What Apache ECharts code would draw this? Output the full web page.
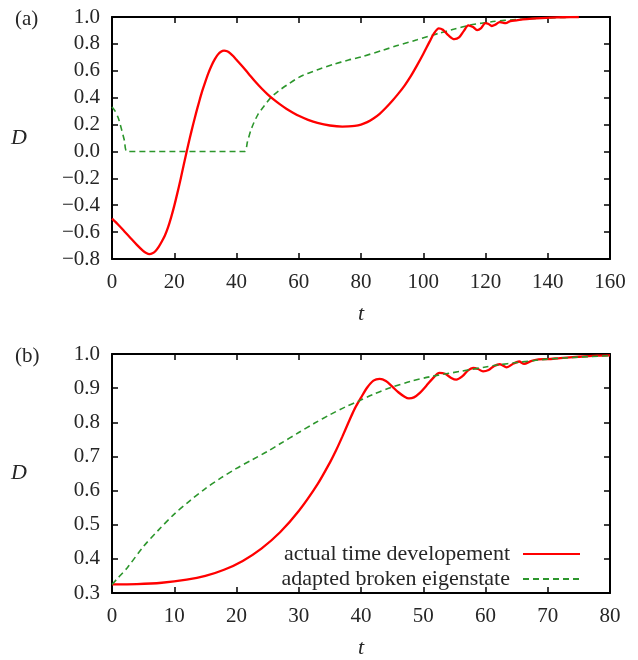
<!DOCTYPE html>
<html>
<head>
<meta charset="utf-8">
<script src="https://cdn.jsdelivr.net/npm/echarts@6/dist/echarts.min.js"></script>
<style>
html,body{margin:0;padding:0;background:#fff;}
#chart{width:638px;height:660px;}
</style>
</head>
<body>
<div id="chart"></div>
<script>
// ---- Data ----
const seriesNames = ['actual time developement', 'adapted broken eigenstate'];
const panelLabels = ['(a)', '(b)'];

// Panel (a): red (actual time development)
const aRedT = [0, 2, 4, 6, 8, 10, 11, 12, 13, 14, 15, 16, 17, 18, 19, 20, 21, 22, 23, 24, 25, 26, 27, 28, 29, 30, 31, 32, 33, 34, 35, 36, 37, 38, 39, 40, 42, 44, 46, 48, 50, 52, 54, 56, 58, 60, 63, 66, 70, 74, 76, 78, 80, 82, 84, 86, 88, 90, 92, 94, 96, 98, 100, 102, 103.5, 105, 106.3, 108, 110, 111.5, 113, 114.5, 116, 117.3, 118.5, 120, 121, 122, 123.3, 124.5, 125.5, 126.5, 128, 130, 132, 135, 138, 141, 145, 150];
const aRedD = [-0.50, -0.545, -0.595, -0.645, -0.695, -0.74, -0.755, -0.763, -0.757, -0.74, -0.71, -0.67, -0.625, -0.565, -0.49, -0.405, -0.31, -0.21, -0.105, 0.0, 0.10, 0.195, 0.285, 0.37, 0.45, 0.52, 0.585, 0.64, 0.685, 0.72, 0.742, 0.75, 0.745, 0.73, 0.708, 0.682, 0.63, 0.575, 0.52, 0.47, 0.425, 0.385, 0.35, 0.318, 0.29, 0.265, 0.235, 0.212, 0.193, 0.185, 0.186, 0.19, 0.2, 0.218, 0.245, 0.28, 0.325, 0.375, 0.43, 0.49, 0.56, 0.64, 0.725, 0.815, 0.88, 0.916, 0.905, 0.865, 0.835, 0.848, 0.895, 0.938, 0.925, 0.903, 0.915, 0.955, 0.948, 0.933, 0.945, 0.962, 0.958, 0.955, 0.97, 0.975, 0.982, 0.988, 0.992, 0.995, 0.998, 1.0];

// Panel (a): green (adapted broken eigenstate)
const aGreenT = [0, 1, 2, 3, 4, 4.8, 42.6, 43.5, 44.5, 45.5, 47, 48.7, 51, 53.5, 56.2, 60.4, 65.8, 71.1, 76, 80, 87.2, 92, 98, 105, 110, 115, 122.4, 130, 140, 150];
const aGreenD = [0.33, 0.30, 0.25, 0.17, 0.08, 0.0, 0.0, 0.07, 0.15, 0.21, 0.28, 0.333, 0.40, 0.45, 0.494, 0.556, 0.606, 0.648, 0.68, 0.703, 0.754, 0.79, 0.83, 0.879, 0.91, 0.94, 0.966, 0.982, 0.993, 1.0];

// Panel (b): red
const bRedT = [0, 4, 8, 12, 15, 18, 21, 24, 27, 30, 33, 35, 36, 37, 38, 39, 40, 41, 42, 43, 44, 45, 46, 47, 47.7, 48.5, 49.5, 50.5, 51.5, 52.6, 53.5, 54.5, 55.3, 56.3, 57.2, 58, 58.8, 59.6, 60.5, 61.4, 62.3, 63.4, 64.5, 65.4, 66.2, 67.3, 68.5, 70, 72, 75, 78, 80];
const bRedD = [0.325, 0.326, 0.33, 0.339, 0.35, 0.368, 0.394, 0.43, 0.478, 0.54, 0.618, 0.682, 0.718, 0.758, 0.80, 0.84, 0.872, 0.902, 0.922, 0.927, 0.921, 0.905, 0.888, 0.875, 0.870, 0.873, 0.887, 0.907, 0.928, 0.945, 0.942, 0.93, 0.925, 0.935, 0.952, 0.959, 0.956, 0.949, 0.953, 0.965, 0.970, 0.961, 0.972, 0.978, 0.971, 0.979, 0.984, 0.985, 0.988, 0.992, 0.995, 0.996];

// Panel (b): green
const bGreenT = [0, 1, 2.5, 5, 7.5, 10, 12.5, 15, 17.5, 20, 22.5, 25, 27, 30, 32.5, 35, 37.5, 39.6, 42, 44.7, 48, 51, 55.9, 60, 62, 65, 70, 75, 80];
const bGreenD = [0.325, 0.345, 0.375, 0.435, 0.485, 0.531, 0.57, 0.606, 0.637, 0.665, 0.69, 0.715, 0.737, 0.77, 0.797, 0.822, 0.845, 0.862, 0.882, 0.901, 0.92, 0.933, 0.949, 0.962, 0.968, 0.975, 0.985, 0.991, 0.995];

// Axis ranges / ticks
const aX = {min: 0, max: 160, step: 20};
const aY = {min: -0.8, max: 1.0, step: 0.2};
const bX = {min: 0, max: 80, step: 10};
const bY = {min: 0.3, max: 1.0, step: 0.1};
const xName = 't';
const yName = 'D';

// ---- Chart ----
const zip = (t, d) => t.map((v, i) => [v, d[i]]);
const FONT = 'Liberation Serif';
const TXT = '#262626';
const RED = '#ff0000';
const GREEN = '#2c962c';

function xAxisDef(grid, r, pos, show) {
  return {
    type: 'value', gridIndex: grid, position: pos,
    min: r.min, max: r.max, interval: r.step,
    name: show ? xName : '', nameLocation: 'middle', nameGap: 44,
    nameTextStyle: {fontFamily: FONT, fontStyle: 'italic', fontSize: 22, color: TXT},
    axisLine: {show: true, onZero: false, lineStyle: {color: '#000', width: 2}},
    axisTick: {show: true, inside: true, length: 6, lineStyle: {color: '#000', width: 1.5}},
    axisLabel: {show: show, margin: 13, fontFamily: FONT, fontSize: 21, color: TXT},
    splitLine: {show: false}
  };
}
function yAxisDef(grid, r, pos, show) {
  return {
    type: 'value', gridIndex: grid, position: pos,
    min: r.min, max: r.max, interval: r.step,
    name: show ? yName : '', nameLocation: 'middle', nameGap: 85, nameRotate: 0,
    nameTextStyle: {fontFamily: FONT, fontStyle: 'italic', fontSize: 22, color: TXT},
    axisLine: {show: true, onZero: false, lineStyle: {color: '#000', width: 2}},
    axisTick: {show: true, inside: true, length: 6, lineStyle: {color: '#000', width: 1.5}},
    axisLabel: {show: show, margin: 12, fontFamily: FONT, fontSize: 21, color: TXT,
      formatter: v => v.toFixed(1).replace('-', '\u2212')},
    splitLine: {show: false}
  };
}

const chart = echarts.init(document.getElementById('chart'), null, {renderer: 'canvas'});
chart.setOption({
  animation: false,
  backgroundColor: '#fff',
  title: [
    {text: panelLabels[0], left: 10, top: 4, textStyle: {fontFamily: FONT, fontWeight: 'normal', fontSize: 21, color: TXT}},
    {text: panelLabels[1], left: 10, top: 341, textStyle: {fontFamily: FONT, fontWeight: 'normal', fontSize: 21, color: TXT}}
  ],
  grid: [
    {left: 112, top: 17, width: 498, height: 242},
    {left: 112, top: 354, width: 498, height: 243}
  ],
  xAxis: [
    xAxisDef(0, aX, 'bottom', true),
    xAxisDef(0, aX, 'top', false),
    xAxisDef(1, bX, 'bottom', true),
    xAxisDef(1, bX, 'top', false)
  ],
  yAxis: [
    yAxisDef(0, aY, 'left', true),
    yAxisDef(0, aY, 'right', false),
    yAxisDef(1, bY, 'left', true),
    yAxisDef(1, bY, 'right', false)
  ],
  legend: {
    show: true,
    data: seriesNames,
    orient: 'vertical',
    align: 'right',
    right: 52,
    top: 538,
    itemWidth: 57,
    itemHeight: 14,
    itemGap: 3,
    itemStyle: {opacity: 0},
    textStyle: {fontFamily: FONT, fontSize: 22, color: TXT, padding: [0, 8, 0, 0]}
  },
  series: [
    {name: seriesNames[1], type: 'line', xAxisIndex: 0, yAxisIndex: 0, data: zip(aGreenT, aGreenD),
      symbol: 'none', smooth: 0.2, lineStyle: {color: GREEN, width: 1.6, type: [6, 4]}, itemStyle: {color: GREEN}},
    {name: seriesNames[0], type: 'line', xAxisIndex: 0, yAxisIndex: 0, data: zip(aRedT, aRedD),
      symbol: 'none', smooth: 0.3, lineStyle: {color: RED, width: 2.3}, itemStyle: {color: RED}},
    {name: seriesNames[0], type: 'line', xAxisIndex: 2, yAxisIndex: 2, data: zip(bRedT, bRedD),
      symbol: 'none', smooth: 0.3, lineStyle: {color: RED, width: 2.3}, itemStyle: {color: RED}},
    {name: seriesNames[1], type: 'line', xAxisIndex: 2, yAxisIndex: 2, data: zip(bGreenT, bGreenD),
      symbol: 'none', smooth: 0.3, lineStyle: {color: GREEN, width: 1.6, type: [6, 4]}, itemStyle: {color: GREEN}}
  ]
});
</script>
</body>
</html>
